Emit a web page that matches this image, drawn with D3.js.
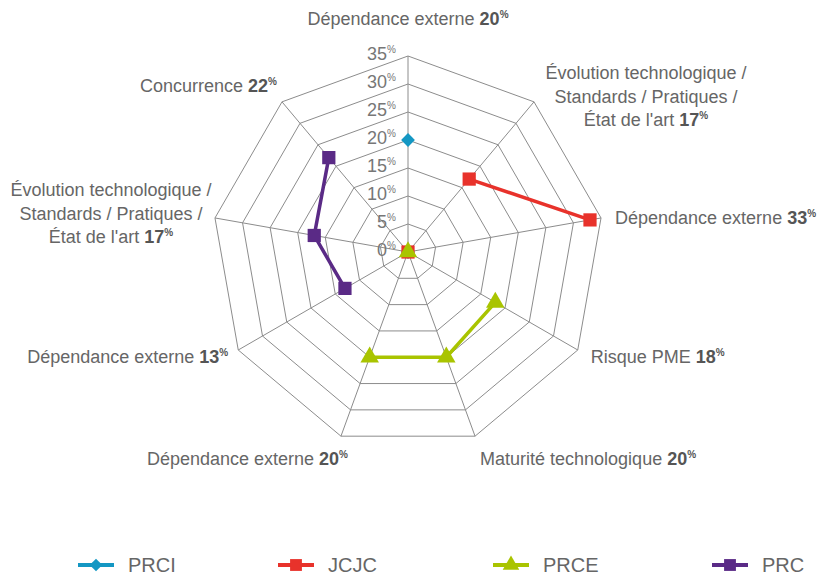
<!DOCTYPE html>
<html>
<head>
<meta charset="utf-8">
<script src="https://cdn.jsdelivr.net/npm/d3@7"></script>
<style>
  body { margin: 0; background: #fff; }
  svg { display: block; font-family: "Liberation Sans", Arial, sans-serif; }
</style>
</head>
<body>
<svg id="chart" width="821" height="577"></svg>
<script>
// axis labels (clockwise from top) and the value shown next to each
const axisNames = [
  ["Dépendance externe"],
  ["Évolution technologique /", "Standards / Pratiques /", "État de l'art"],
  ["Dépendance externe"],
  ["Risque PME"],
  ["Maturité technologique"],
  ["Dépendance externe"],
  ["Dépendance externe"],
  ["Évolution technologique /", "Standards / Pratiques /", "État de l'art"],
  ["Concurrence"]
];
const axisValues = [20, 17, 33, 18, 20, 20, 13, 17, 22];

const seriesNames = ["PRCI", "JCJC", "PRCE", "PRC"];
const prciValues = [20, null, null, null, null, 0, null, null, null];
const jcjcValues = [null, 17, 33, null, null, null, 0, null, null];
const prceValues = [null, null, null, 18, 20, 20, null, 0, null];
const prcValues  = [null, null, null, null, null, null, 13, 17, 22];

const tickValues = [0, 5, 10, 15, 20, 25, 30, 35];

const colors = ["#1497c3", "#e8322b", "#a9c400", "#5a2a86"];
const shapes = ["diamond", "square", "triangle", "square"];

const width = 821, height = 577;
const cx = 408, cy = 252, radius = 196;

const svg = d3.select('#chart');

const rScale = d3.scaleLinear().domain([0, 35]).range([0, radius]);
const angle = d3.scaleLinear().domain([0, axisNames.length]).range([0, 2 * Math.PI]);

const pt = (i, v) => [cx + rScale(v) * Math.sin(angle(i)), cy - rScale(v) * Math.cos(angle(i))];

// grid rings
const grid = svg.append('g').attr('stroke', '#8c8c8c').attr('stroke-width', 1).attr('fill', 'none');
tickValues.filter(t => t > 0).forEach(t => {
  grid.append('polygon')
    .attr('points', axisNames.map((_, i) => pt(i, t).join(',')).join(' '));
});
// spokes
axisNames.forEach((_, i) => {
  const [x, y] = pt(i, 35);
  grid.append('line').attr('x1', cx).attr('y1', cy).attr('x2', x).attr('y2', y);
});

// tick labels
const ticks = svg.append('g').attr('fill', '#777').attr('font-size', 18).attr('text-anchor', 'end');
tickValues.forEach(t => {
  const txt = ticks.append('text')
    .attr('x', cx - 12)
    .attr('y', cy - rScale(t) + 4);
  txt.append('tspan').text(t);
  txt.append('tspan').attr('font-size', 10).attr('dy', -7).text('%');
});

// axis labels: anchor and offset from the outer vertex
const labelLayout = [
  { anchor: 'middle', dx: 0, dy: -37 },
  { anchor: 'middle', dx: 112, dy: -5 },
  { anchor: 'start', dx: 14, dy: 0 },
  { anchor: 'start', dx: 13, dy: 7 },
  { anchor: 'start', dx: 5, dy: 23 },
  { anchor: 'end', dx: 7, dy: 23 },
  { anchor: 'end', dx: -10, dy: 7 },
  { anchor: 'middle', dx: -104, dy: -4 },
  { anchor: 'end', dx: -5, dy: -16 }
];
const lineH = 23.5;
const labels = svg.append('g').attr('font-size', 18).attr('fill', '#666');
axisNames.forEach((lines, i) => {
  const [vx, vy] = pt(i, 35);
  const lay = labelLayout[i];
  const n = lines.length;
  lines.forEach((line, j) => {
    const txt = labels.append('text')
      .attr('text-anchor', lay.anchor)
      .attr('x', vx + lay.dx)
      .attr('y', vy + lay.dy + (j - (n - 1) / 2) * lineH + 6);
    txt.append('tspan').text(line);
    if (j === n - 1) {
      txt.append('tspan').attr('font-weight', 'bold').attr('fill', '#555').text(' ' + axisValues[i]);
      txt.append('tspan').attr('font-weight', 'bold').attr('fill', '#555')
        .attr('font-size', 10).attr('dy', -7).text('%');
    }
  });
});

function symbolFor(shape, size) {
  if (shape === 'triangle') return d3.symbol(d3.symbolTriangle, size * 0.85)();
  return d3.symbol(d3.symbolSquare, size)();
}

// series
const allValues = [prciValues, jcjcValues, prceValues, prcValues];
const lineGen = d3.line().defined(d => d[1] !== null).x(d => pt(d[0], d[1])[0]).y(d => pt(d[0], d[1])[1]);

allValues.forEach((vals, s) => {
  const g = svg.append('g');
  const pts = vals.map((v, i) => [i, v]);
  g.append('path')
    .attr('d', lineGen(pts))
    .attr('fill', 'none')
    .attr('stroke', colors[s])
    .attr('stroke-width', 3.5);
  g.selectAll('path.m')
    .data(pts.filter(d => d[1] !== null))
    .enter().append('path')
    .attr('class', 'm')
    .attr('d', symbolFor(shapes[s], shapes[s] === 'diamond' ? 95 : 175))
    .attr('fill', colors[s])
    .attr('transform', d => {
      const [x, y] = pt(d[0], d[1]);
      return `translate(${x},${y})` + (shapes[s] === 'diamond' ? ' rotate(45)' : '');
    });
});

// legend
const legendX = [78, 278, 493, 712];
const legend = svg.append('g').attr('font-size', 20).attr('fill', '#666');
const ly = 565;
seriesNames.forEach((name, s) => {
  const g = legend.append('g').attr('transform', `translate(${legendX[s]},${ly})`);
  g.append('line').attr('x1', 0).attr('x2', 36).attr('y1', 0).attr('y2', 0)
    .attr('stroke', colors[s]).attr('stroke-width', 4);
  g.append('path')
    .attr('d', symbolFor(shapes[s], shapes[s] === 'diamond' ? 80 : 140))
    .attr('fill', colors[s])
    .attr('transform', `translate(18,0)` + (shapes[s] === 'diamond' ? ' rotate(45)' : ''));
  g.append('text').attr('x', 50).attr('y', 7).text(name);
});
</script>
</body>
</html>
